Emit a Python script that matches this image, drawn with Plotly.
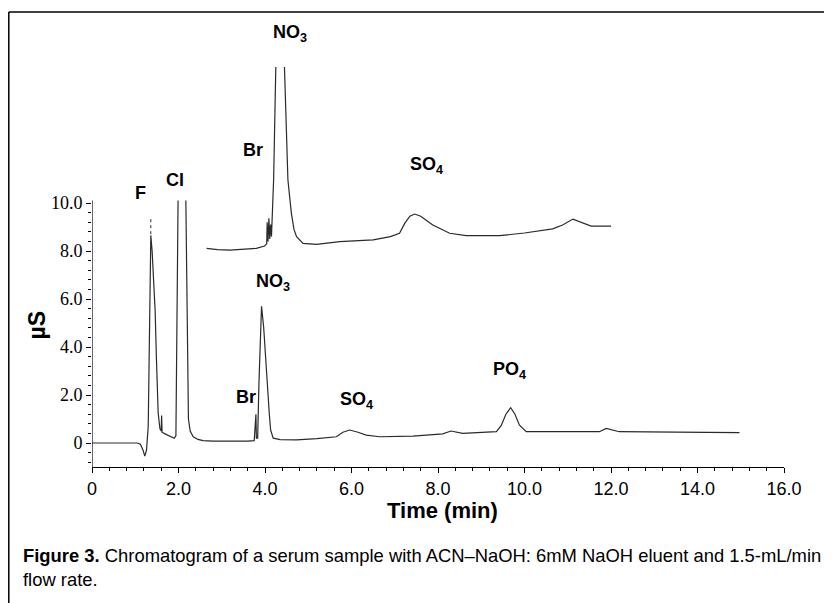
import numpy as np
import plotly.graph_objects as go

# ---------------- data ----------------
# lower chromatogram (serum sample)
t_low = [0.0, 1.05, 1.12, 1.18, 1.22, 1.26, 1.30, 1.33, 1.36, 1.39, 1.42, 1.46, 1.49, 1.53, 1.57,
         1.60, 1.61, 1.62, 1.69, 1.80, 1.90, 1.94, 1.96, 1.99, None, 2.17, 2.20, 2.23, 2.27, 2.34,
         2.45, 2.57, 2.8, 3.2, 3.6, 3.75, 3.77, 3.79, 3.80, 3.83, 3.86, 3.92, 3.97, 4.02, 4.06,
         4.10, 4.13, 4.19, 4.35, 4.73, 5.2, 5.65, 5.8, 5.96, 6.15, 6.34, 6.65, 7.11, 7.42, 8.11,
         8.3, 8.57, 9.0, 9.35, 9.46, 9.57, 9.68, 9.78, 9.88, 10.04, 11.0, 11.73, 11.89, 12.05,
         12.19, 13.5, 14.97]
y_low = [0.0, 0.0, -0.05, -0.3, -0.55, -0.3, 0.7, 5.0, 8.65, 8.0, 7.0, 5.5, 3.5, 1.25, 0.6,
         0.5, 1.15, 0.45, 0.38, 0.28, 0.2, 0.3, 4.0, 10.1, None, 10.1, 4.0, 1.0, 0.5, 0.26,
         0.15, 0.1, 0.08, 0.07, 0.08, 0.1, 0.6, 1.2, 0.2, 0.2, 2.5, 5.7, 4.8, 3.3, 2.4,
         1.2, 0.54, 0.2, 0.14, 0.13, 0.18, 0.26, 0.45, 0.54, 0.45, 0.33, 0.26, 0.26, 0.29, 0.38,
         0.5, 0.40, 0.44, 0.47, 0.72, 1.2, 1.47, 1.2, 0.75, 0.47, 0.47, 0.47, 0.61, 0.55,
         0.47, 0.45, 0.43]

# F peak dotted top
t_f_top = [1.36, 1.36]
y_f_top = [8.7, 9.4]

# upper chromatogram (offset standard)
t_up = [2.65, 2.9, 3.19, 3.5, 3.80, 3.99, 4.04, 4.05, 4.07, 4.09, 4.11, 4.13, 4.15, 4.20, 4.25,
        None, 4.45, 4.50, 4.53, 4.61, 4.67, 4.73, 4.88, 5.19, 5.73, 6.5, 6.9, 7.11, 7.23, 7.35,
        7.46, 7.6, 7.88, 8.27, 8.65, 9.42, 10.0, 10.65, 10.88, 11.12, 11.3, 11.54, 12.0]
y_up = [8.11, 8.06, 8.04, 8.07, 8.11, 8.21, 8.3, 9.2, 8.4, 9.36, 8.5, 9.1, 8.6, 11.0, 15.67,
        None, 15.67, 12.5, 10.96, 9.57, 8.9, 8.6, 8.32, 8.28, 8.39, 8.46, 8.6, 8.74, 9.15, 9.45,
        9.54, 9.45, 9.08, 8.74, 8.64, 8.64, 8.75, 8.92, 9.08, 9.33, 9.2, 9.04, 9.04]

# peak labels
label_text = ["F", "Cl", "NO<sub>3</sub>", "Br", "SO<sub>4</sub>", "NO<sub>3</sub>", "Br",
              "SO<sub>4</sub>", "PO<sub>4</sub>"]
label_t = [1.13, 1.92, 4.57, 3.72, 7.74, 4.18, 3.56, 6.12, 9.65]
label_y = [10.42, 10.96, 17.08, 12.2, 11.58, 6.67, 1.92, 1.79, 3.04]

x_tickvals = [0, 2, 4, 6, 8, 10, 12, 14, 16]
x_ticktext = ["0", "2.0", "4.0", "6.0", "8.0", "10.0", "12.0", "14.0", "16.0"]
y_tickvals = [0, 2, 4, 6, 8, 10]
y_ticktext = ["0", "2.0", "4.0", "6.0", "8.0", "10.0"]

caption_line1 = ("<b>Figure 3.</b> Chromatogram of a serum sample with ACN–NaOH: "
                 "6mM NaOH eluent and 1.5-mL/min")
caption_line2 = "flow rate."

# ---------------- figure ----------------
LINE = "#2a2a2a"
fig = go.Figure()
fig.add_trace(go.Scatter(x=t_low, y=y_low, mode="lines", line=dict(color=LINE, width=1.2),
                         connectgaps=False, showlegend=False, hoverinfo="skip"))
fig.add_trace(go.Scatter(x=t_f_top, y=y_f_top, mode="lines",
                         line=dict(color=LINE, width=1, dash="dot"), showlegend=False))
fig.add_trace(go.Scatter(x=t_up, y=y_up, mode="lines", line=dict(color=LINE, width=1.2),
                         connectgaps=False, showlegend=False, hoverinfo="skip"))

for txt, tx, ty in zip(label_text, label_t, label_y):
    fig.add_annotation(x=tx, y=ty, xref="x", yref="y", text=f"<b>{txt}</b>", showarrow=False,
                       font=dict(family="Liberation Sans, Arial", size=18, color="black"))

minor_y = [round(v, 2) for v in np.arange(-0.8, 10.01, 0.4)]
minor_x = [round(v, 2) for v in np.arange(0.4, 16.0, 0.4)]

# the page body has an 8px margin: figure spans screen x 8..832, y 8..603
fig.update_layout(
    width=824, height=595,
    margin=dict(l=84, r=48, t=12, b=136, autoexpand=False),
    paper_bgcolor="white", plot_bgcolor="white",
    xaxis=dict(range=[0, 16], showgrid=False, zeroline=False, showline=True,
               linecolor="black", linewidth=1.2,
               tickmode="array", tickvals=x_tickvals, ticktext=x_ticktext,
               ticks="outside", ticklen=5, tickcolor="black",
               minor=dict(tickmode="array", tickvals=minor_x, ticks="outside",
                          ticklen=3, tickcolor="black"),
               tickfont=dict(family="Liberation Sans, Arial", size=18, color="black")),
    yaxis=dict(range=[-1, 17.625], showgrid=False, zeroline=False, showline=False,
               tickmode="array", tickvals=y_tickvals, ticktext=y_ticktext,
               ticks="outside", ticklen=5, tickcolor="black",
               minor=dict(tickmode="array", tickvals=minor_y, ticks="outside",
                          ticklen=3, tickcolor="black"),
               tickfont=dict(family="Liberation Serif, Times New Roman", size=18, color="black")),
)

# y axis line only over the scaled part
fig.add_shape(type="line", xref="x", yref="y", x0=0, x1=0, y0=-1, y1=10.1,
              line=dict(color="black", width=1.2))

# axis titles
fig.add_annotation(x=8.1, y=0, xref="x", yref="paper", yshift=-43, showarrow=False,
                   text="<b>Time (min)</b>", yanchor="middle",
                   font=dict(family="Liberation Sans, Arial", size=22, color="black"))
fig.add_annotation(x=0, y=4.9, xref="paper", yref="y", xshift=-55, showarrow=False,
                   text="<b>µS</b>", textangle=-90, xanchor="center", yanchor="middle",
                   font=dict(family="Liberation Sans, Arial", size=23, color="black"))

# caption (two lines)
cap_font = dict(family="Liberation Sans, Arial", size=18.4, color="black")
fig.add_annotation(x=0, y=0, xref="paper", yref="paper", xshift=-71, yshift=-88,
                   xanchor="left", yanchor="middle", align="left", showarrow=False,
                   text=caption_line1, font=cap_font)
fig.add_annotation(x=0, y=0, xref="paper", yref="paper", xshift=-71, yshift=-112,
                   xanchor="left", yanchor="middle", align="left", showarrow=False,
                   text=caption_line2, font=cap_font)

# outer frame (screen pixel positions converted to paper coords of the plot area)
px2x = lambda p: (p - 92) / 692
px2y = lambda p: (467 - p) / 447
frame = dict(color="black", width=1.5)
fig.add_shape(type="line", xref="paper", yref="paper", x0=px2x(8.8), x1=px2x(826),
              y0=px2y(12), y1=px2y(12), line=frame)
fig.add_shape(type="line", xref="paper", yref="paper", x0=px2x(8.8), x1=px2x(8.8),
              y0=px2y(12), y1=px2y(603), line=frame)
fig.add_shape(type="line", xref="paper", yref="paper", x0=px2x(826), x1=px2x(826),
              y0=px2y(12), y1=px2y(525), line=frame)

fig.write_html("out.html")
